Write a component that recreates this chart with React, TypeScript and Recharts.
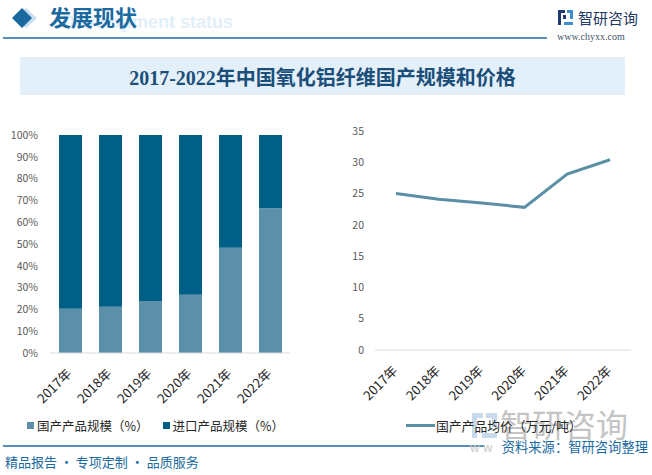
import { BarChart, Bar, LineChart, Line, XAxis, YAxis } from 'recharts'

const years = ['2017年', '2018年', '2019年', '2020年', '2021年', '2022年']
// share of domestic vs imported product (%)
const domesticShare = [20.3, 21.2, 23.9, 26.7, 48.3, 66.4]
const importShare = [79.7, 78.8, 76.1, 73.3, 51.7, 33.6]
// domestic average price (万元/吨)
const avgPrice = [25.0, 24.1, 23.5, 22.8, 28.1, 30.4]
const shareTicks = [0, 10, 20, 30, 40, 50, 60, 70, 80, 90, 100]
const priceTicks = [0, 5, 10, 15, 20, 25, 30, 35]

const DOMESTIC = '#5b90a8'
const IMPORT = '#005f86'
const PRICE = '#5a8fa6'
const BLUE = '#1a6aa0'
const CJK = '"Noto Sans CJK SC", "Microsoft YaHei", sans-serif'

const shareData = years.map((year, i) => ({ year, domestic: domesticShare[i], imported: importShare[i] }))
const priceData = years.map((year, i) => ({ year, price: avgPrice[i] }))

const yTick = { fill: '#595959', fontSize: 10.5, fontFamily: CJK }
const xTick = { fill: '#262626', fontSize: 13, fontFamily: CJK, dx: -4, dy: 7 }

export default function App() {
  return (
    <div style={{ position: 'absolute', left: 0, top: 0, width: 652, height: 475, background: '#fff', overflow: 'hidden', fontFamily: CJK }}>
      <svg width={652} height={475} style={{ position: 'absolute', left: 0, top: 0 }}>
        {/* header */}
        <text x={233} y={28} textAnchor="end" fontSize={18} fontWeight="bold" fill="#e2eff9" fontFamily='"Liberation Sans", sans-serif'>Development status</text>
        <polygon points="26,8 37,18 26,28 15,18" fill="#c9def0" />
        <polygon points="22,8 32,18 22,28 12,18" fill={BLUE} />
        <text x={49} y={26} fontSize={22} fontWeight="bold" fill={BLUE} fontFamily={CJK}>发展现状</text>
        <line x1={3} y1={38} x2={547} y2={38} stroke={BLUE} strokeWidth={1.5} />
        {/* logo */}
        <rect x={558} y={10} width={7} height={3} fill="#1f3a6e" />
        <rect x={558} y={10} width={3} height={15} fill="#1f3a6e" />
        <rect x={563} y={15} width={3} height={4} fill="#1f3a6e" />
        <rect x={567} y={10} width={6} height={3} fill="#3d8fd1" />
        <rect x={570} y={13} width={3} height={6} fill="#3d8fd1" />
        <rect x={564} y={22} width={9} height={3} fill="#3d8fd1" />
        <text x={578} y={24} fontSize={15} fill="#1f3864" fontFamily={CJK}>智研咨询</text>
        <text x={557} y={40} fontSize={10} fill="#44546a" fontFamily='"Liberation Serif", serif'>www.chyxx.com</text>
        {/* watermark bottom right */}
        <rect x={472} y={413} width={11} height={5} fill="#c7d9ea" />
        <rect x={472} y={413} width={5} height={25} fill="#c7d9ea" />
        <rect x={486} y={413} width={11} height={5} fill="#c7d9ea" />
        <rect x={492} y={418} width={5} height={9} fill="#c7d9ea" />
        <rect x={482} y={433} width={15} height={5} fill="#c7d9ea" />
        <text x={500} y={437} fontSize={32} fill="#c4c4c4" fontFamily={CJK}>智研咨询</text>
        {/* footer */}
        <line x1={3} y1={446} x2={485} y2={446} stroke={BLUE} strokeWidth={1.5} />
        <text x={470} y={452} fontSize={13} fill="#c8c8c8" fontFamily='"Liberation Sans", sans-serif'>w w</text>
        <text x={648} y={452} textAnchor="end" fontSize={13.3} fill={BLUE} fontFamily={CJK}>资料来源：智研咨询整理</text>
        <text x={5} y={467} fontSize={13} fill={BLUE} fontFamily={CJK}>精品报告 · 专项定制 · 品质服务</text>
      </svg>

      <div style={{ position: 'absolute', left: 20, top: 57, width: 605, height: 38, background: '#e4f0f9', display: 'flex', alignItems: 'center', justifyContent: 'center' }}>
        <span style={{ fontSize: 20, fontWeight: 'bold', color: '#1b4f7a', fontFamily: '"Liberation Serif", "Noto Sans CJK SC", serif' }}>
          2017-2022年中国氧化铝纤维国产规模和价格
        </span>
      </div>

      <div style={{ position: 'absolute', left: 0, top: 120 }}>
        <BarChart width={300} height={300} data={shareData} margin={{ top: 15, right: 10, bottom: 7, left: 0 }}>
          <XAxis
            dataKey="year"
            interval={0}
            angle={-45}
            textAnchor="end"
            height={60}
            axisLine={{ stroke: '#d9d9d9' }}
            tickLine={false}
            tick={xTick}
          />
          <YAxis
            width={50}
            domain={[0, 100]}
            ticks={shareTicks}
            tickFormatter={(v) => `${v}%`}
            axisLine={false}
            tickLine={false}
            tickMargin={6}
            tick={yTick}
          />
          <Bar dataKey="domestic" stackId="s" fill={DOMESTIC} barSize={23} isAnimationActive={false} />
          <Bar dataKey="imported" stackId="s" fill={IMPORT} barSize={23} isAnimationActive={false} />
        </BarChart>
      </div>

      <div style={{ position: 'absolute', left: 330, top: 120 }}>
        <LineChart width={310} height={300} data={priceData} margin={{ top: 11, right: 9, bottom: 10, left: 0 }}>
          <XAxis
            dataKey="year"
            interval={0}
            angle={-45}
            textAnchor="end"
            height={60}
            padding={{ left: 21, right: 21 }}
            axisLine={{ stroke: '#d9d9d9' }}
            tickLine={false}
            tick={xTick}
          />
          <YAxis
            width={45}
            domain={[0, 35]}
            ticks={priceTicks}
            axisLine={false}
            tickLine={false}
            tickMargin={5}
            tick={yTick}
          />
          <Line type="linear" dataKey="price" stroke={PRICE} strokeWidth={3} dot={false} isAnimationActive={false} />
        </LineChart>
      </div>

      {/* legends */}
      <div style={{ position: 'absolute', left: 27, top: 416, display: 'flex', alignItems: 'center', fontSize: 12.5, color: '#262626', whiteSpace: 'nowrap' }}>
        <span style={{ width: 7, height: 7, background: DOMESTIC, marginRight: 3 }} />
        <span>国产产品规模（%）</span>
        <span style={{ width: 7, height: 7, background: IMPORT, marginLeft: 14, marginRight: 3 }} />
        <span>进口产品规模（%）</span>
      </div>
      <div style={{ position: 'absolute', left: 406, top: 416, display: 'flex', alignItems: 'center', fontSize: 12.8, color: '#262626', whiteSpace: 'nowrap' }}>
        <span style={{ width: 29, height: 3, background: PRICE, marginRight: 1 }} />
        <span>国产产品均价（万元/吨）</span>
      </div>
    </div>
  )
}
